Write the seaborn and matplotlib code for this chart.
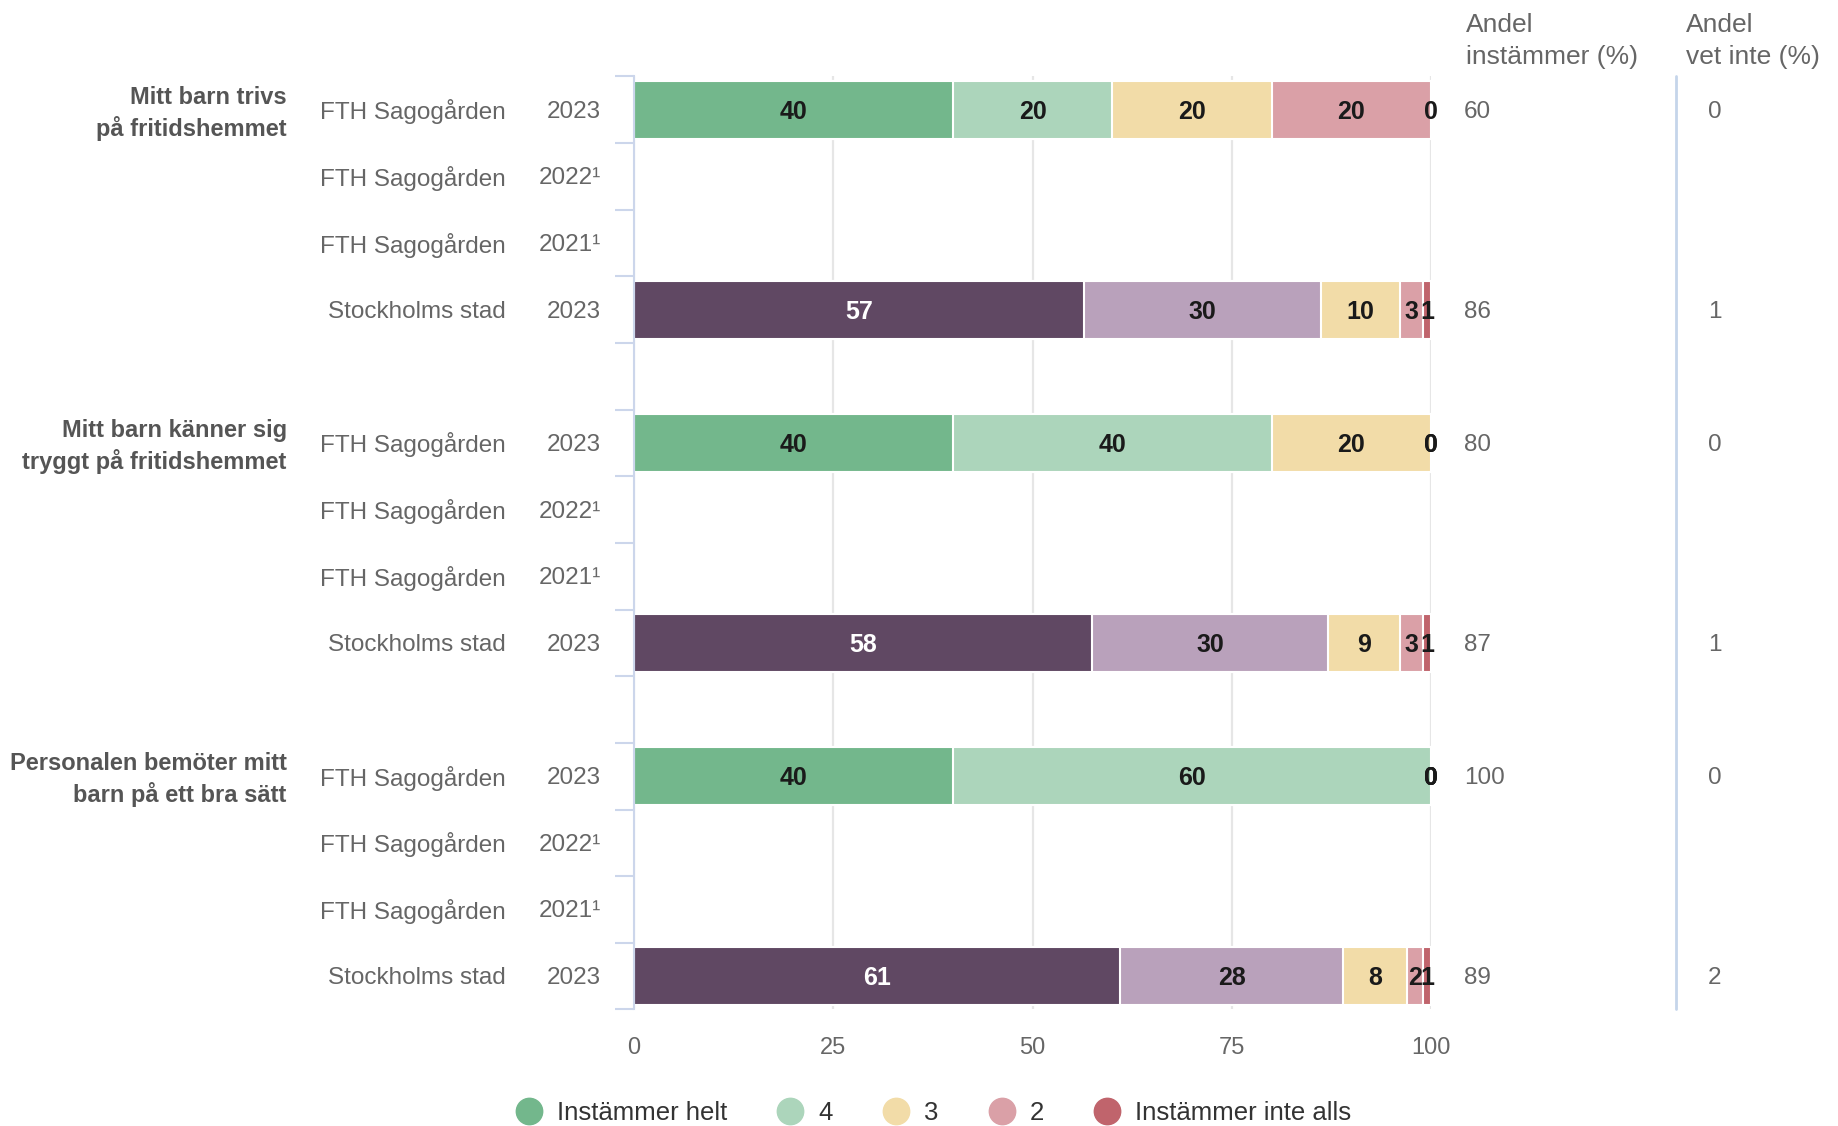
import matplotlib.pyplot as plt
import matplotlib.transforms as mtransforms
from matplotlib.lines import Line2D
import seaborn as sns
import pandas as pd

# style
sns.set_style('white')
plt.rcParams['font.family'] = ['Liberation Sans', 'DejaVu Sans']

# data
questions = ['Mitt barn trivs\npå fritidshemmet',
             'Mitt barn känner sig\ntryggt på fritidshemmet',
             'Personalen bemöter mitt\nbarn på ett bra sätt']
units = ['FTH Sagogården', 'FTH Sagogården', 'FTH Sagogården', 'Stockholms stad']
years = ['2023', '2022¹', '2021¹', '2023']
levels = ['Instämmer helt', '4', '3', '2', 'Instämmer inte alls']

fth_2023 = [[40, 20, 20, 20, 0],
            [40, 40, 20, 0, 0],
            [40, 60, 0, 0, 0]]
sthlm_2023 = [[57, 30, 10, 3, 1],
              [58, 30, 9, 3, 1],
              [61, 28, 8, 2, 1]]
andel_instammer = [[60, None, None, 86],
                   [80, None, None, 87],
                   [100, None, None, 89]]
andel_vet_inte = [[0, None, None, 1],
                  [0, None, None, 1],
                  [0, None, None, 2]]

fth_colors = ['#73b78c', '#acd5bb', '#f2dca8', '#daa0a7', '#c0646c']
sthlm_colors = ['#604863', '#b9a1bb', '#f2dca8', '#daa0a7', '#c0646c']

# build slot order (4 rows per question + spacer)
order = []
rows = []
for qi in range(len(questions)):
    for ri in range(len(units)):
        slot = f'q{qi}r{ri}'
        order.append(slot)
        if ri == 0:
            vals, cols = fth_2023[qi], fth_colors
        elif ri == 3:
            vals, cols = sthlm_2023[qi], sthlm_colors
        else:
            continue
        total = sum(vals)
        cum = 0.0
        for li, v in enumerate(vals):
            pct = v / total * 100
            rows.append({'slot': slot, 'level': li, 'value': v, 'pct': pct,
                         'start': cum, 'end': cum + pct, 'color': cols[li]})
            cum += pct
    if qi < len(questions) - 1:
        order.append(f'gap{qi}')

df = pd.DataFrame(rows)

fig = plt.figure(figsize=(18.38, 11.26), dpi=100)
ax = fig.add_axes([0.345, 0.1035, 0.4336, 0.8286])

# stacked bars by overlaying cumulative bars (widest first)
for li in reversed(range(len(levels))):
    sub = df[df['level'] == li]
    pal = dict(zip(sub['slot'], sub['color']))
    sns.barplot(data=sub, x='end', y='slot', hue='slot', palette=pal, order=order,
                orient='h', dodge=False, width=0.87, errorbar=None, legend=False,
                edgecolor='white', linewidth=1.5, saturation=1, ax=ax)

# value labels in segments
for _, r in df.iterrows():
    yi = order.index(r['slot'])
    txtcol = 'white' if r['color'] == '#604863' else '#1a1a1a'
    ax.text(r['start'] + r['pct'] / 2, yi + 0.03, f"{r['value']}", ha='center', va='center',
            fontsize=18, fontweight='bold', color=txtcol)

ax.set_xlim(0, 100)
ax.set_ylim(len(order) - 0.5, -0.5)
ax.set_xticks([0, 25, 50, 75, 100])
ax.set_yticks([i - 0.5 for i in range(len(order) + 1)])
ax.set_yticklabels([])
ax.set_xlabel('')
ax.set_ylabel('')
ax.grid(axis='x', color='#e6e6e6', linewidth=1.6)
ax.set_axisbelow(True)
for s in ['top', 'right', 'bottom']:
    ax.spines[s].set_visible(False)
ax.spines['left'].set_color('#ccd6eb')
ax.spines['left'].set_linewidth(1.5)
ax.tick_params(axis='y', length=14, width=1.5, color='#ccd6eb', direction='out', left=True)
ax.tick_params(axis='x', length=0, pad=20, labelsize=17, labelcolor='#666666')

# row and group labels
tr = mtransforms.blended_transform_factory(fig.transFigure, ax.transData)
for qi, q in enumerate(questions):
    for ri in range(len(units)):
        yi = order.index(f'q{qi}r{ri}') + 0.03
        ax.text(0.2753, yi, units[ri], transform=tr, ha='right', va='center',
                fontsize=17.5, color='#666666')
        ax.text(0.327, yi, years[ri], transform=tr, ha='right', va='center',
                fontsize=17.5, color='#666666')
        if andel_instammer[qi][ri] is not None:
            ax.text(0.7965, yi, str(andel_instammer[qi][ri]), transform=tr, ha='left',
                    va='center', fontsize=17.5, color='#666666')
            ax.text(0.933, yi, str(andel_vet_inte[qi][ri]), transform=tr, ha='center',
                    va='center', fontsize=17.5, color='#666666')
    ax.text(0.156, order.index(f'q{qi}r0') + 0.05, q, transform=tr, ha='right',
            va='center', fontsize=17, fontweight='bold', color='#555555', linespacing=1.35)

# divider line for the right-hand columns
trv = mtransforms.blended_transform_factory(fig.transFigure, ax.transAxes)
ax.add_line(Line2D([0.912, 0.912], [0, 1], transform=trv, color='#c5d5ea',
                   linewidth=2, clip_on=False))

fig.text(0.7975, 0.9635, 'Andel\ninstämmer (%)', ha='left', va='center', fontsize=19,
         color='#666666', linespacing=1.4)
fig.text(0.9174, 0.9635, 'Andel\nvet inte (%)', ha='left', va='center', fontsize=19,
         color='#666666', linespacing=1.4)

# legend
handles = [Line2D([0], [0], marker='o', linestyle='', markersize=19,
                  markerfacecolor=c, markeredgecolor=c) for c in fth_colors]
fig.legend(handles, levels, loc='center', bbox_to_anchor=(0.508, 0.0115), ncol=5,
           frameon=False, fontsize=18.5, handlelength=1.0, handletextpad=0.6,
           columnspacing=1.95, labelcolor='#333333')

fig.savefig('out.png', dpi=100)
